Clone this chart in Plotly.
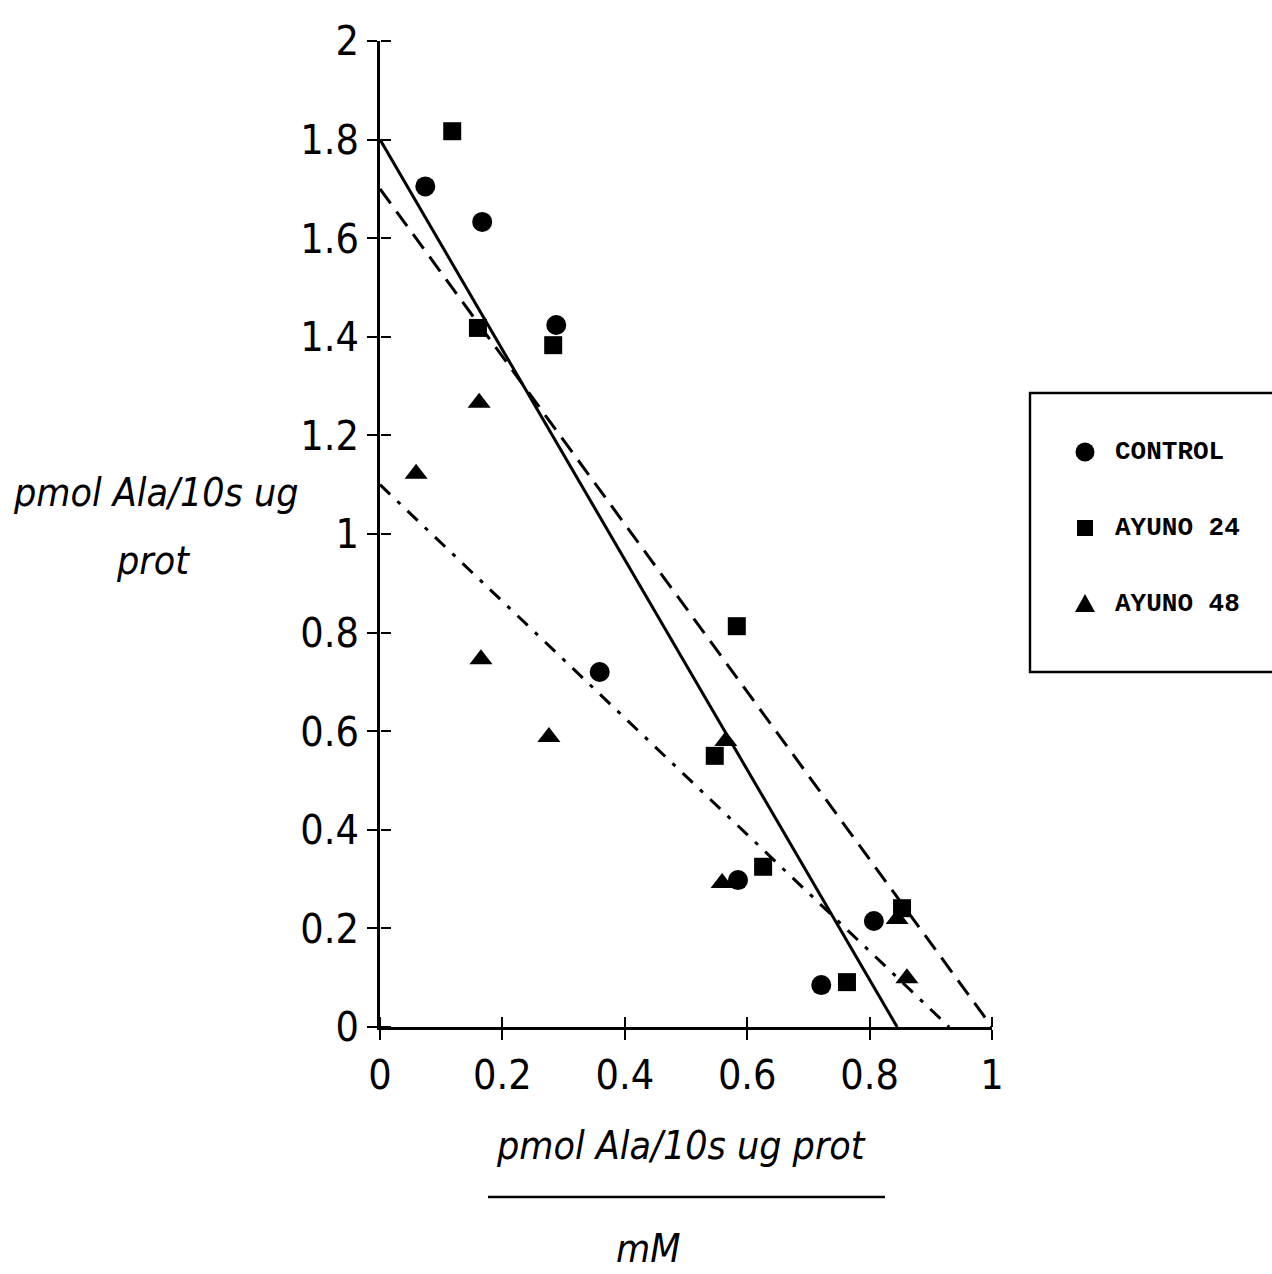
import plotly.graph_objects as go

W, H = 1272, 1274

# ---- data ----
control_x = [0.074, 0.167, 0.288, 0.359, 0.585, 0.807, 0.721]
control_y = [1.705, 1.633, 1.424, 0.720, 0.298, 0.215, 0.085]

ayuno24_x = [0.118, 0.160, 0.283, 0.583, 0.547, 0.626, 0.763, 0.853]
ayuno24_y = [1.817, 1.418, 1.383, 0.813, 0.550, 0.325, 0.091, 0.241]

ayuno48_x = [0.059, 0.162, 0.165, 0.276, 0.565, 0.559, 0.845, 0.861]
ayuno48_y = [1.122, 1.266, 0.746, 0.588, 0.580, 0.292, 0.219, 0.099]

series_names = ["CONTROL", "AYUNO 24", "AYUNO 48"]
fit_y_intercepts = [1.80, 1.70, 1.10]
fit_x_intercepts = [0.845, 1.00, 0.93]

x_ticks = [0, 0.2, 0.4, 0.6, 0.8, 1]
y_ticks = [0, 0.2, 0.4, 0.6, 0.8, 1, 1.2, 1.4, 1.6, 1.8, 2]

# ---- helpers (pixel -> paper) ----
def px(x):
    return x / W

def py(y):
    return 1 - y / H

TICK_FONT = dict(family="DejaVu Sans Condensed, Liberation Sans Narrow, sans-serif",
                 size=41, color="black")
TITLE_FONT = dict(family="DejaVu Sans Condensed, Liberation Sans Narrow, sans-serif",
                  size=39, color="black", style="italic")
LEG_FONT = dict(family="Liberation Mono, DejaVu Sans Mono, monospace", size=26,
                color="black", weight="bold")

fig = go.Figure()

markers = [
    (control_x, control_y, "circle", 20),
    (ayuno24_x, ayuno24_y, "square", 18),
    (ayuno48_x, ayuno48_y, "triangle-up", 20),
]
for (xs, ys, sym, sz), name in zip(markers, series_names):
    fig.add_trace(go.Scatter(
        x=xs, y=ys, mode="markers", name=name, showlegend=False,
        marker=dict(symbol=sym, size=sz, color="black", line=dict(width=0)),
        cliponaxis=False,
    ))

dashes = ["solid", "18px,10px", "14px,10px,4px,10px"]
for name, yi, xi, dash in zip(series_names, fit_y_intercepts, fit_x_intercepts, dashes):
    fig.add_trace(go.Scatter(
        x=[0, xi], y=[yi, 0], mode="lines", name=name + " ajuste", showlegend=False,
        line=dict(color="black", width=3, dash=dash),
        cliponaxis=False,
    ))

# dummy trace for overlay axes (inner tick halves)
fig.add_trace(go.Scatter(x=[0.5], y=[1], xaxis="x2", yaxis="y2", mode="markers",
                         marker=dict(opacity=0), showlegend=False, hoverinfo="skip"))

xdom = [px(380), px(992)]
ydom = [py(1027), py(41)]

common_axis = dict(showgrid=False, zeroline=False, ticks="outside", ticklen=10,
                   tickwidth=2.4, tickcolor="black", automargin=False)

fig.update_layout(
    template="none",
    width=W, height=H,
    margin=dict(l=0, r=0, t=0, b=0, pad=0, autoexpand=False),
    paper_bgcolor="white", plot_bgcolor="white",
    xaxis=dict(domain=xdom, range=[0, 1], tickvals=x_ticks, showline=True,
               linecolor="black", linewidth=2.8, tickfont=TICK_FONT,
               ticklabelstandoff=0, **common_axis),
    yaxis=dict(domain=ydom, range=[0, 2], tickvals=y_ticks, showline=True,
               linecolor="black", linewidth=2.8, tickfont=TICK_FONT,
               ticklabelstandoff=0, **common_axis),
    xaxis2=dict(overlaying="x", domain=xdom, range=[0, 1], tickvals=x_ticks,
                showticklabels=False, showline=False, showgrid=False, zeroline=False,
                ticks="outside", ticklen=10, tickwidth=2.4, tickcolor="black",
                anchor="free", position=ydom[0], side="top", automargin=False),
    yaxis2=dict(overlaying="y", domain=ydom, range=[0, 2], tickvals=y_ticks,
                showticklabels=False, showline=False, showgrid=False, zeroline=False,
                ticks="outside", ticklen=10, tickwidth=2.4, tickcolor="black",
                anchor="free", position=xdom[0], side="right", automargin=False),
    showlegend=False,
)

shapes = []
annotations = []

# x-axis title (fraction style)
annotations.append(dict(x=px(681), y=py(1145), xref="paper", yref="paper",
                        text="pmol Ala/10s ug prot", showarrow=False,
                        font=TITLE_FONT, xanchor="center", yanchor="middle"))
shapes.append(dict(type="line", xref="paper", yref="paper",
                   x0=px(488), x1=px(885), y0=py(1197), y1=py(1197),
                   line=dict(color="black", width=2.6)))
annotations.append(dict(x=px(648), y=py(1248), xref="paper", yref="paper",
                        text="mM", showarrow=False, font=TITLE_FONT,
                        xanchor="center", yanchor="middle"))

# y-axis title (two lines)
annotations.append(dict(x=px(155), y=py(493), xref="paper", yref="paper",
                        text="pmol Ala/10s ug", showarrow=False,
                        font=TITLE_FONT, xanchor="center", yanchor="middle"))
annotations.append(dict(x=px(153), y=py(560), xref="paper", yref="paper",
                        text="prot", showarrow=False,
                        font=TITLE_FONT, xanchor="center", yanchor="middle"))

# legend box
shapes.append(dict(type="rect", xref="paper", yref="paper",
                   x0=px(1030), x1=px(1300), y0=py(672), y1=py(393),
                   line=dict(color="black", width=2.4), fillcolor="white",
                   layer="below"))
kx = 1085
key_ys = [452, 528, 604]
shapes.append(dict(type="circle", xref="paper", yref="paper",
                   x0=px(kx - 9.5), x1=px(kx + 9.5), y0=py(key_ys[0] + 9.5), y1=py(key_ys[0] - 9.5),
                   fillcolor="black", line=dict(width=0)))
shapes.append(dict(type="rect", xref="paper", yref="paper",
                   x0=px(kx - 8), x1=px(kx + 8), y0=py(key_ys[1] + 8), y1=py(key_ys[1] - 8),
                   fillcolor="black", line=dict(width=0)))
ty = key_ys[2]
shapes.append(dict(type="path", xref="paper", yref="paper",
                   path=f"M {px(kx-10)},{py(ty+8)} L {px(kx+10)},{py(ty+8)} L {px(kx)},{py(ty-10)} Z",
                   fillcolor="black", line=dict(width=0)))
for name, yk in zip(series_names, key_ys):
    annotations.append(dict(x=px(1113), y=py(yk), xref="paper", yref="paper",
                            text=name, showarrow=False, font=LEG_FONT,
                            xanchor="left", yanchor="middle"))

fig.update_layout(shapes=shapes, annotations=annotations)

fig.write_html("out.html")
